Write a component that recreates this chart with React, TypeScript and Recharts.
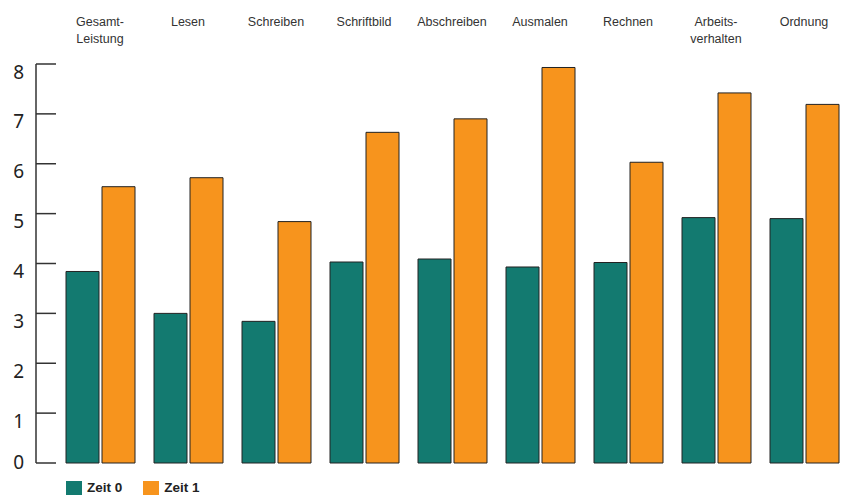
import React from 'react';
import { BarChart, Bar, XAxis, YAxis } from 'recharts';

const categories = [
  'Gesamt-\nLeistung',
  'Lesen',
  'Schreiben',
  'Schriftbild',
  'Abschreiben',
  'Ausmalen',
  'Rechnen',
  'Arbeits-\nverhalten',
  'Ordnung',
];
const zeit0 = [3.84, 3.0, 2.84, 4.03, 4.09, 3.93, 4.02, 4.92, 4.9];
const zeit1 = [5.54, 5.72, 4.84, 6.63, 6.9, 7.93, 6.03, 7.42, 7.19];
const yTicks = [0, 1, 2, 3, 4, 5, 6, 7, 8];
const series = [
  { key: 'zeit0', name: 'Zeit 0', color: '#137a70' },
  { key: 'zeit1', name: 'Zeit 1', color: '#f7941d' },
];

const data = categories.map((c, i) => ({ category: c, zeit0: zeit0[i], zeit1: zeit1[i] }));

const LABEL_FONT = "'Liberation Sans', Arial, sans-serif";
const AXIS_FONT = "'Noto Sans', 'Open Sans', sans-serif";

const TopTick = (props: any) => {
  const { x, y, payload } = props;
  const lines = String(payload.value).split('\n');
  return (
    <g>
      {lines.map((l: string, i: number) => (
        <text
          key={i}
          x={x}
          y={y - 38 + i * 17}
          textAnchor="middle"
          fontSize={12.5}
          fill="#333"
          fontFamily={LABEL_FONT}
        >
          {l}
        </text>
      ))}
    </g>
  );
};

const LeftTick = (props: any) => {
  const { x, y, payload } = props;
  return (
    <g>
      <line x1={x} x2={x + 20} y1={y} y2={y} stroke="#333" strokeWidth={1.5} />
      <text
        x={x - 12}
        y={y + (payload.value === 0 ? -1.5 : 7.5)}
        textAnchor="end"
        dominantBaseline="central"
        fontSize={19}
        fill="#222"
        fontFamily={AXIS_FONT}
      >
        {payload.value}
      </text>
    </g>
  );
};

const RightTick = (props: any) => {
  const { x, y } = props;
  return <line x1={x} x2={x} y1={y - 11} y2={y} stroke="#333" strokeWidth={1.5} />;
};

export default function App() {
  return (
    <div style={{ position: 'absolute', left: 0, top: 0, width: 852, height: 495, background: '#fff' }}>
      <BarChart
        width={852}
        height={495}
        data={data}
        margin={{ top: 6, right: 0, bottom: 32, left: 0 }}
        barSize={33}
        barGap={3}
      >
        <XAxis
          dataKey="category"
          height={0}
          tick={false}
          tickLine={false}
          axisLine={{ stroke: '#333', strokeWidth: 1.5 }}
          padding={{ left: 20, right: 3 }}
        />
        <XAxis
          xAxisId="top"
          dataKey="category"
          orientation="top"
          height={58}
          axisLine={false}
          tickLine={false}
          tickSize={0}
          tickMargin={0}
          interval={0}
          tick={<TopTick />}
          padding={{ left: 20, right: 3 }}
        />
        <YAxis
          width={36}
          domain={[0, 8]}
          ticks={yTicks}
          interval={0}
          tickLine={false}
          tickSize={0}
          tickMargin={0}
          axisLine={{ stroke: '#333', strokeWidth: 1.5 }}
          tick={<LeftTick />}
        />
        <YAxis
          yAxisId="right"
          orientation="right"
          width={1}
          domain={[0, 8]}
          ticks={[0]}
          interval={0}
          tickLine={false}
          tickSize={0}
          tickMargin={0}
          axisLine={false}
          tick={<RightTick />}
        />
        {series.map((s) => (
          <Bar
            key={s.key}
            dataKey={s.key}
            name={s.name}
            fill={s.color}
            stroke="#222"
            strokeWidth={1}
            isAnimationActive={false}
          />
        ))}
      </BarChart>
      <div style={{ position: 'absolute', left: 66, top: 481, height: 14, display: 'flex', alignItems: 'flex-start' }}>
        {series.map((s, i) => (
          <div key={s.key} style={{ display: 'flex', alignItems: 'flex-start', marginRight: i === 0 ? 21 : 0 }}>
            <div style={{ width: 16, height: 15, background: s.color }} />
            <span
              style={{
                marginLeft: 5,
                fontFamily: "'Liberation Sans Narrow', 'Liberation Sans', Arial, sans-serif",
                fontWeight: 'bold',
                fontSize: 13.5,
                lineHeight: '14px',
                color: '#222',
              }}
            >
              {s.name}
            </span>
          </div>
        ))}
      </div>
    </div>
  );
}
